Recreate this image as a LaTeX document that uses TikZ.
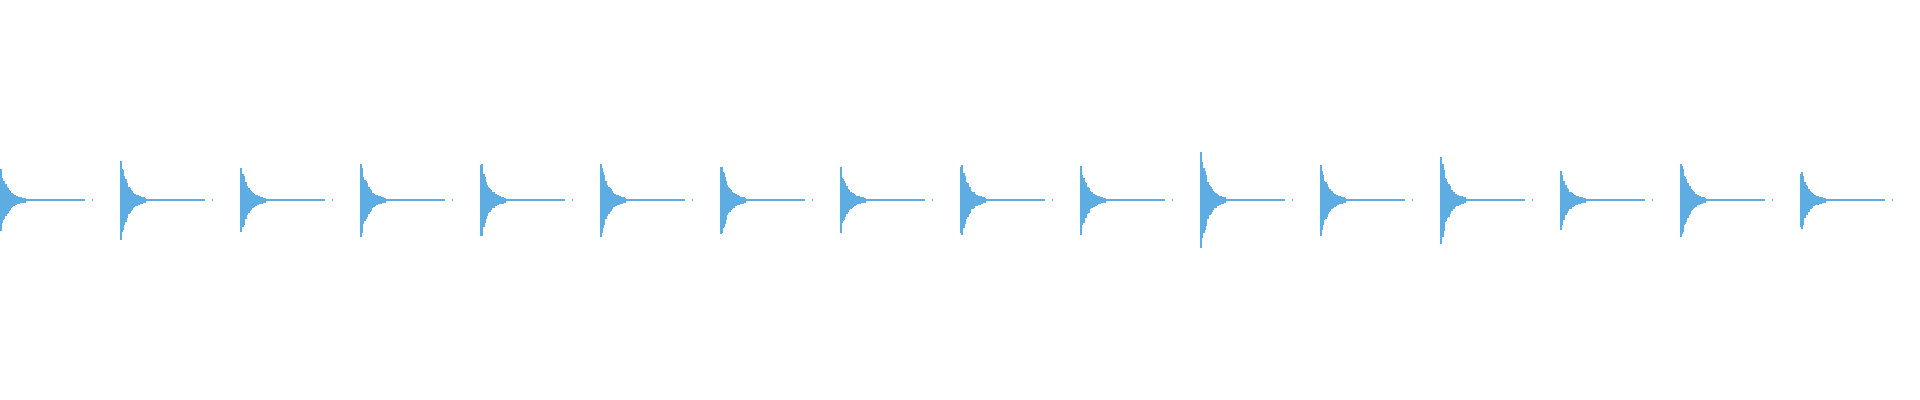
\documentclass[tikz,border=0pt]{standalone}
\usepackage{xcolor}
\definecolor{wave}{HTML}{5DADE2}

\begin{document}
\begin{tikzpicture}[x=0.01cm, y=0.01cm]
        % 样式:波形竖条与尾部
        \tikzstyle{bar}=[fill=wave, draw=wave, line width=0.004cm]
        \tikzstyle{tail}=[draw=wave, line width=0.012cm]
        \useasboundingbox (0,0) rectangle (1920,400);
        \pgfmathsetseed{7}

        % 16 个衰减脉冲,每个间隔 120 像素
        \foreach \amp [count=\k from 0] in {25,33,29,31,34,33,34,26,34,28,41,30,39,24,37,26} {
            \pgfmathsetmacro{\xo}{120*\k}
            % 脉冲主体
            \foreach \t in {0,...,24} {
                \pgfmathsetmacro{\h}{1.2245*\amp*exp(-\t/7)*(0.75+0.25*rnd)+1}
                \filldraw[bar] (\xo+\t,200-\h) rectangle (\xo+\t+1,200+\h);
            }
            % 尾部基线
            \draw[tail] (\xo+25,200) -- (\xo+60,200);
            \draw[tail, dash pattern=on 7 off 2 on 5 off 3 on 2 off 2] (\xo+60,200) -- (\xo+93,200);
        }
    \end{tikzpicture}
\end{document}
